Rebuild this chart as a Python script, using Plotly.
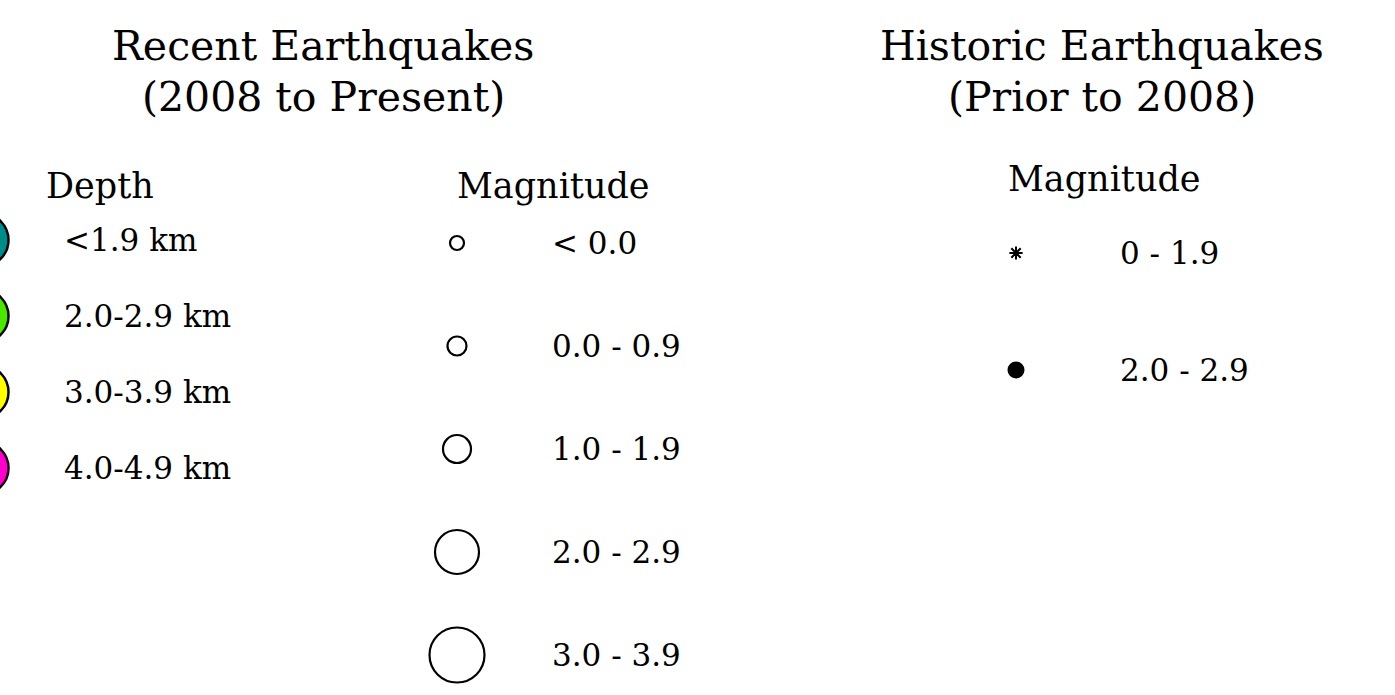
import plotly.graph_objects as go

# ---- data ----
recent_title = ["Recent Earthquakes", "(2008 to Present)"]
historic_title = ["Historic Earthquakes", "(Prior to 2008)"]

depth_header = "Depth"
depth_labels = ["<1.9 km", "2.0-2.9 km", "3.0-3.9 km", "4.0-4.9 km"]
depth_colors = ["#008B8B", "#4CE600", "#FFFF00", "#FF00CC"]

mag_header = "Magnitude"
mag_labels = ["< 0.0", "0.0 - 0.9", "1.0 - 1.9", "2.0 - 2.9", "3.0 - 3.9"]
mag_sizes = [14, 19, 28, 44, 55]

hist_header = "Magnitude"
hist_labels = ["0 - 1.9", "2.0 - 2.9"]
hist_symbols = ["asterisk-open", "circle"]
hist_sizes = [11, 15]

# ---- layout constants ----
W, H = 1395, 695
FONT = "DejaVu Serif"
TITLE_SIZE, HEAD_SIZE, LABEL_SIZE = 41, 35, 31

depth_marker_x, depth_text_x, depth_y0, depth_dy = -18, 62, 240, 76
mag_marker_x, mag_text_x, mag_y0, mag_dy = 457, 550, 243, 103
hist_marker_x, hist_text_x, hist_y0, hist_dy = 1016, 1118, 253, 117

depth_y = [depth_y0 + i * depth_dy for i in range(len(depth_labels))]
mag_y = [mag_y0 + i * mag_dy for i in range(len(mag_labels))]
hist_y = [hist_y0 + i * hist_dy for i in range(len(hist_labels))]

fig = go.Figure()

fig.add_trace(go.Scatter(
    x=[depth_marker_x] * len(depth_labels), y=depth_y, mode="markers",
    marker=dict(size=53, color=depth_colors, opacity=1,
                line=dict(color="black", width=2.5)),
    hoverinfo="skip", showlegend=False))

fig.add_trace(go.Scatter(
    x=[mag_marker_x] * len(mag_labels), y=mag_y, mode="markers",
    marker=dict(size=mag_sizes, color="white", opacity=1,
                line=dict(color="black", width=2.2)),
    hoverinfo="skip", showlegend=False))

fig.add_trace(go.Scatter(
    x=[hist_marker_x] * len(hist_labels), y=hist_y, mode="markers",
    marker=dict(size=hist_sizes, symbol=hist_symbols, color="black", opacity=1,
                line=dict(color="black", width=2)),
    hoverinfo="skip", showlegend=False))

ann = []
def label(x, y, text, size, anchor="left"):
    ann.append(dict(x=x, y=y, xref="x", yref="y", text=text, showarrow=False,
                    xanchor=anchor, yanchor="middle",
                    font=dict(family=FONT, size=size, color="black")))

label(323, 46, recent_title[0], TITLE_SIZE, "center")
label(323, 97, recent_title[1], TITLE_SIZE, "center")
label(1102, 46, historic_title[0], TITLE_SIZE, "center")
label(1102, 97, historic_title[1], TITLE_SIZE, "center")
label(44, 186, depth_header, HEAD_SIZE)
label(455, 186, mag_header, HEAD_SIZE)
label(1006, 179, hist_header, HEAD_SIZE)
for t, y in zip(depth_labels, depth_y):
    label(depth_text_x, y, t, LABEL_SIZE)
for t, y in zip(mag_labels, mag_y):
    label(mag_text_x, y, t, LABEL_SIZE)
for t, y in zip(hist_labels, hist_y):
    label(hist_text_x, y, t, LABEL_SIZE)

fig.update_layout(
    width=W, height=H, margin=dict(l=0, r=0, t=0, b=0),
    paper_bgcolor="white", plot_bgcolor="white",
    xaxis=dict(range=[0, W], visible=False, fixedrange=True),
    yaxis=dict(range=[H, 0], visible=False, fixedrange=True),
    annotations=ann,
)

fig.write_html("out.html",
               config={"displayModeBar": False, "staticPlot": True},
               post_script="document.body.style.margin='0';document.body.style.overflow='hidden';")
